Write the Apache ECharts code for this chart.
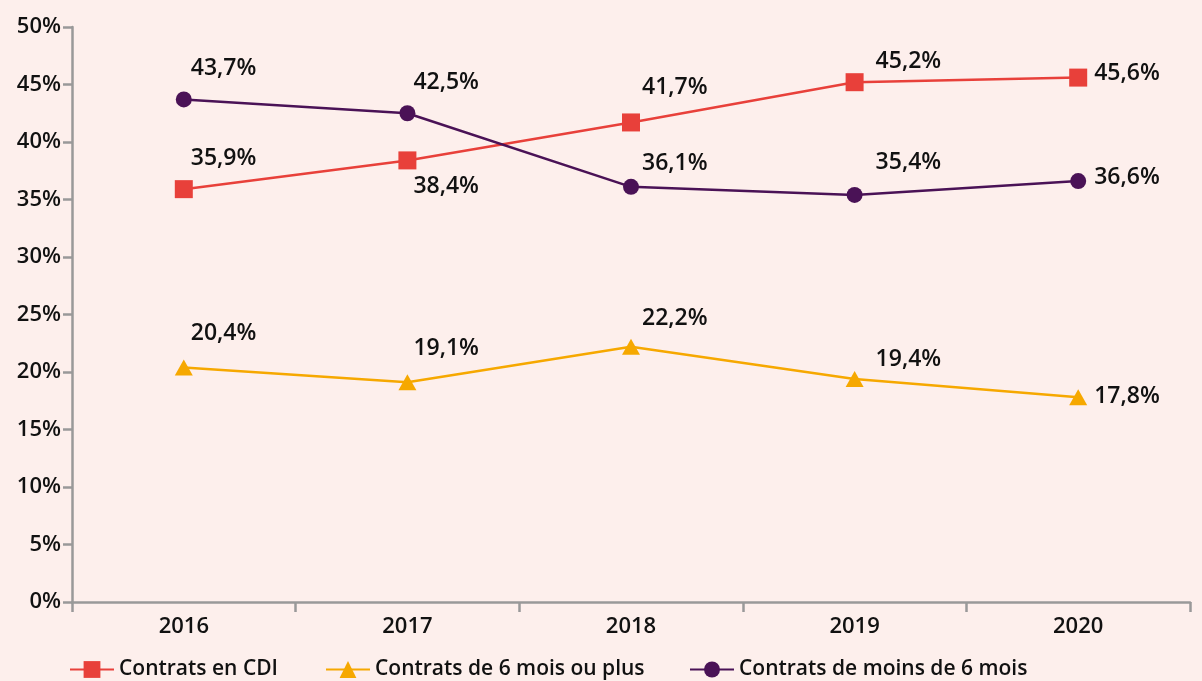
<!DOCTYPE html>
<html><head><meta charset="utf-8">
<script src="https://cdn.jsdelivr.net/npm/echarts@6/dist/echarts.min.js"></script>
<style>html,body{margin:0;padding:0;background:#fdefec;}#c{width:1202px;height:681px;}</style>
</head><body><div id="c"></div>
<script>
const years = ['2016','2017','2018','2019','2020'];
const cdi = [35.9, 38.4, 41.7, 45.2, 45.6];
const sixPlus = [20.4, 19.1, 22.2, 19.4, 17.8];
const lessSix = [43.7, 42.5, 36.1, 35.4, 36.6];
const yTicks = [0, 5, 10, 15, 20, 25, 30, 35, 40, 45, 50];
const names = ['Contrats en CDI', 'Contrats de 6 mois ou plus', 'Contrats de moins de 6 mois'];

// label offsets per point [dx, dy] (style only)
const cdiOff = [[-2,-31],[-3,26],[2,-35],[12,-21],[7,-4]];
const sixOff = [[-2,-34],[-3,-34],[2,-28],[12,-19],[7,-1]];
const lessOff = [[-1,-31],[-2,-31],[3,-23],[13,-32],[8,-4]];

const FONT = '"Open Sans", "DejaVu Sans", sans-serif';
function fmt(v){ return String(v).replace('.', ',') + '%'; }
function mk(vals, offs){
  return vals.map((v,i)=>({value:v, label:{offset:offs[i]}}));
}
const lbl = {show:true, position:'right', distance:0, color:'#111', fontSize:23, fontWeight:600, fontFamily:FONT,
  formatter:p=>fmt(p.value)};
const ts = {fontSize:21, fontWeight:600, color:'#111', fontFamily:FONT};
const axs = {fontSize:22, fontWeight:600, color:'#111', fontFamily:FONT};

const chart = echarts.init(document.getElementById('c'), null, {renderer:'canvas'});
chart.setOption({
  backgroundColor:'#fdefec',
  animation:false,
  grid:{left:72, right:12, top:27, bottom:79, containLabel:false},
  legend:[
    {data:[names[0]], left:64, top:654, itemWidth:44, itemHeight:21, textStyle:ts},
    {data:[names[1]], left:320, top:654, itemWidth:44, itemHeight:21, textStyle:ts},
    {data:[names[2]], left:684, top:654, itemWidth:44, itemHeight:20, textStyle:ts}
  ],
  xAxis:{type:'category', data:years, boundaryGap:true,
    axisLine:{lineStyle:{color:'#999', width:2.5}},
    axisTick:{show:true, length:10, lineStyle:{color:'#999', width:2.5}},
    axisLabel:Object.assign({margin:14}, axs)},
  yAxis:{type:'value', min:0, max:50, interval:5,
    axisLine:{show:true, lineStyle:{color:'#999', width:2.5}},
    axisTick:{show:true, length:9, lineStyle:{color:'#999', width:2.5}},
    splitLine:{show:false},
    axisLabel:Object.assign({margin:11, formatter:v=> yTicks.includes(v) ? v + '%' : ''}, axs)},
  series:[
    {name:names[0], type:'line', data:mk(cdi,cdiOff), symbol:'rect', symbolSize:18,
      itemStyle:{color:'#e8403a'}, lineStyle:{color:'#e8403a', width:2.5}, label:lbl, z:3},
    {name:names[1], type:'line', data:mk(sixPlus,sixOff), symbol:'triangle', symbolSize:[18,16],
      itemStyle:{color:'#f6a800'}, lineStyle:{color:'#f6a800', width:2.5}, label:lbl, z:2},
    {name:names[2], type:'line', data:mk(lessSix,lessOff), symbol:'circle', symbolSize:16,
      itemStyle:{color:'#4a1256'}, lineStyle:{color:'#4a1256', width:2.5}, label:lbl, z:4}
  ]
});
</script></body></html>
